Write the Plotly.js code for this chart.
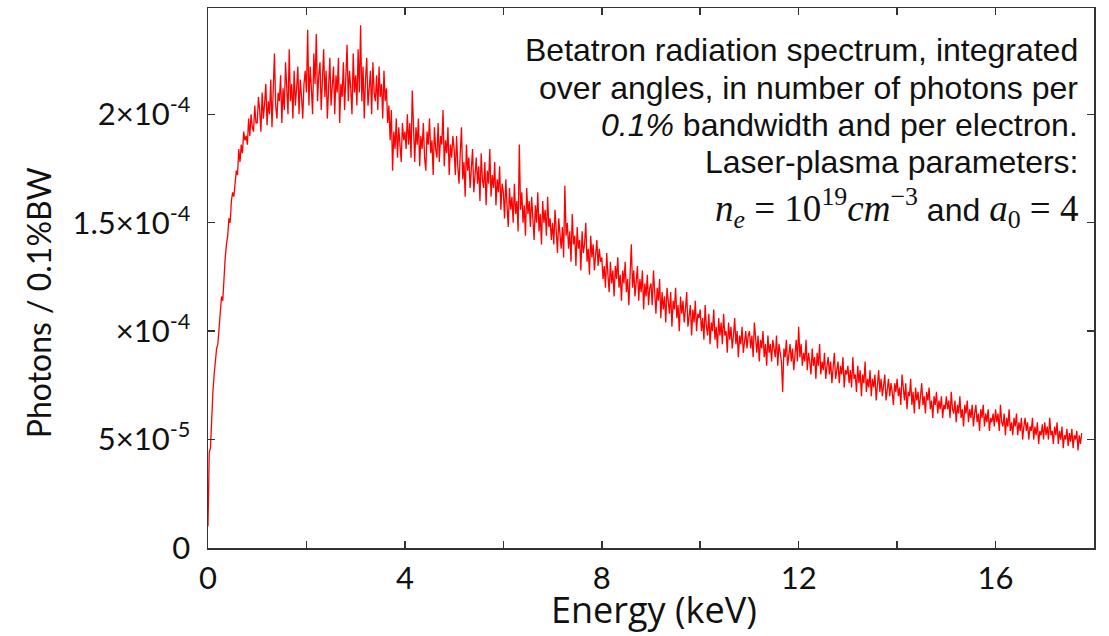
<!DOCTYPE html>
<html>
<head>
<meta charset="utf-8">
<script src="https://cdn.plot.ly/plotly-3.0.1.min.js"></script>
<style>html,body{margin:0;padding:0;background:#fff;}#chart{width:1109px;height:636px;}</style>
</head>
<body>
<div id="chart"></div>
<script>
// Energy grid: starts at 0 keV, sampled every 0.025 keV
const energyStart = 0;
const energyStep = 0.025;

// Photons / 0.1%BW, in units of 1e-4 (one row per keV)
const photons = [
  // 0 - 1 keV
  0.10, 0.44, 0.46, 0.64, 0.72, 0.80, 0.86, 0.92, 0.94, 1.02, 1.06, 1.16, 1.14, 1.28, 1.34, 1.40, 1.44, 1.52, 1.50, 1.60,
  1.64, 1.62, 1.70, 1.74, 1.72, 1.84, 1.78, 1.86, 1.82, 1.92, 1.88, 1.90, 1.86, 1.98, 1.90, 2.00, 1.94, 1.92, 2.04, 1.96,
  // 1 - 2 keV
  1.96, 2.08, 2.02, 1.92, 2.10, 1.98, 2.05, 2.14, 1.95, 2.06, 2.00, 2.16, 1.94, 2.12, 2.28, 2.04, 1.98, 2.10, 2.06, 2.18,
  1.96, 2.12, 2.02, 2.24, 2.08, 2.00, 2.30, 2.06, 2.14, 1.98, 2.20, 2.04, 2.12, 2.22, 2.00, 2.16, 2.08, 1.98, 2.14, 2.20,
  // 2 - 3 keV
  2.10, 2.39, 2.04, 2.22, 2.12, 2.00, 2.28, 2.14, 2.37, 2.06, 2.18, 2.24, 2.02, 2.15, 2.30, 2.08, 2.20, 1.98, 2.16, 2.26,
  2.04, 2.12, 2.22, 2.00, 2.18, 2.10, 2.26, 1.96, 2.14, 2.08, 2.24, 2.02, 2.16, 2.32, 2.06, 2.20, 2.12, 2.00, 2.28, 2.10,
  // 3 - 4 keV
  2.18, 2.04, 2.30, 2.10, 2.41, 2.06, 2.22, 1.98, 2.16, 2.26, 2.04, 2.12, 2.20, 2.00, 2.24, 2.10, 2.06, 2.18, 2.02, 2.22,
  2.08, 2.14, 1.98, 2.20, 2.06, 2.12, 1.96, 2.04, 1.88, 2.02, 1.74, 1.92, 1.84, 1.98, 1.80, 1.94, 1.86, 1.78, 1.96, 1.88,
  // 4 - 5 keV
  1.92, 1.84, 2.00, 1.86, 1.96, 1.80, 2.11, 1.88, 1.78, 1.94, 1.86, 1.98, 1.76, 1.90, 1.84, 1.96, 1.80, 1.74, 1.92, 1.86,
  1.98, 1.82, 1.88, 1.72, 1.94, 1.84, 1.80, 1.96, 1.78, 1.90, 1.86, 2.02, 1.76, 1.88, 1.82, 1.94, 1.72, 1.86, 1.80, 1.90,
  // 5 - 6 keV
  1.84, 1.72, 1.90, 1.76, 1.68, 1.82, 1.94, 1.70, 1.78, 1.62, 1.86, 1.74, 1.80, 1.66, 1.76, 1.84, 1.64, 1.72, 1.80, 1.68,
  1.76, 1.60, 1.82, 1.70, 1.66, 1.78, 1.58, 1.74, 1.68, 1.84, 1.62, 1.72, 1.66, 1.78, 1.58, 1.70, 1.64, 1.76, 1.56, 1.68,
  // 6 - 7 keV
  1.64, 1.52, 1.70, 1.58, 1.48, 1.66, 1.56, 1.62, 1.50, 1.68, 1.54, 1.60, 1.46, 1.86, 1.56, 1.64, 1.50, 1.58, 1.44, 1.66,
  1.54, 1.60, 1.48, 1.62, 1.52, 1.42, 1.58, 1.50, 1.64, 1.46, 1.54, 1.40, 1.60, 1.50, 1.56, 1.44, 1.62, 1.48, 1.52, 1.42,
  // 7 - 8 keV
  1.50, 1.40, 1.56, 1.44, 1.36, 1.52, 1.46, 1.38, 1.48, 1.34, 1.67, 1.44, 1.50, 1.38, 1.46, 1.32, 1.54, 1.40, 1.44, 1.30,
  1.48, 1.38, 1.42, 1.28, 1.46, 1.36, 1.40, 1.50, 1.32, 1.38, 1.26, 1.44, 1.34, 1.40, 1.28, 1.36, 1.42, 1.30, 1.38, 1.32,
  // 8 - 9 keV
  1.34, 1.24, 1.30, 1.20, 1.36, 1.26, 1.18, 1.32, 1.22, 1.28, 1.16, 1.30, 1.24, 1.34, 1.20, 1.26, 1.14, 1.28, 1.22, 1.32,
  1.18, 1.24, 1.12, 1.26, 1.40, 1.20, 1.28, 1.16, 1.22, 1.30, 1.14, 1.24, 1.18, 1.28, 1.10, 1.22, 1.16, 1.26, 1.12, 1.20,
  // 9 - 10 keV
  1.22, 1.12, 1.28, 1.16, 1.08, 1.20, 1.14, 1.24, 1.06, 1.18, 1.10, 1.16, 1.04, 1.20, 1.12, 1.08, 1.18, 1.02, 1.14, 1.10,
  1.20, 1.06, 1.12, 1.00, 1.16, 1.08, 1.14, 1.04, 1.10, 1.18, 1.02, 1.08, 1.12, 0.98, 1.10, 1.04, 1.14, 1.00, 1.08, 1.06,
  // 10 - 11 keV
  1.10, 1.00, 1.06, 0.96, 1.12, 1.02, 0.98, 1.08, 0.94, 1.04, 1.00, 1.10, 0.96, 1.02, 0.92, 1.06, 0.98, 1.04, 0.94, 1.08,
  0.98, 1.00, 0.90, 1.04, 0.96, 1.02, 0.92, 0.98, 1.06, 0.94, 1.00, 0.88, 0.98, 0.94, 1.02, 0.90, 0.96, 1.00, 0.92, 0.98,
  // 11 - 12 keV
  1.00, 0.92, 0.98, 0.88, 1.04, 0.94, 0.90, 0.98, 0.86, 0.96, 0.92, 1.00, 0.88, 0.94, 0.84, 0.98, 0.90, 0.94, 0.86, 0.96,
  0.92, 0.88, 0.98, 0.84, 0.94, 0.90, 0.86, 0.72, 0.92, 0.88, 0.96, 0.84, 0.90, 0.94, 0.86, 0.92, 0.82, 0.90, 0.96, 0.86,
  // 12 - 13 keV
  1.02, 0.88, 0.94, 0.84, 0.90, 0.86, 0.96, 0.82, 0.90, 0.86, 0.80, 0.92, 0.84, 0.88, 0.78, 0.90, 0.84, 0.94, 0.80, 0.86,
  0.82, 0.90, 0.78, 0.84, 0.88, 0.80, 0.86, 0.76, 0.84, 0.90, 0.78, 0.82, 0.86, 0.76, 0.84, 0.80, 0.88, 0.74, 0.82, 0.80,
  // 13 - 14 keV
  0.84, 0.76, 0.82, 0.74, 0.88, 0.78, 0.80, 0.72, 0.84, 0.76, 0.82, 0.70, 0.80, 0.76, 0.86, 0.72, 0.78, 0.74, 0.82, 0.70,
  0.78, 0.74, 0.80, 0.68, 0.76, 0.82, 0.72, 0.78, 0.70, 0.76, 0.80, 0.68, 0.74, 0.78, 0.70, 0.76, 0.72, 0.66, 0.76, 0.72,
  // 14 - 15 keV
  0.78, 0.70, 0.74, 0.66, 0.80, 0.72, 0.68, 0.76, 0.64, 0.72, 0.70, 0.78, 0.66, 0.72, 0.62, 0.74, 0.68, 0.72, 0.64, 0.70,
  0.76, 0.66, 0.70, 0.62, 0.72, 0.68, 0.74, 0.64, 0.68, 0.60, 0.70, 0.66, 0.72, 0.62, 0.68, 0.64, 0.70, 0.60, 0.66, 0.64,
  // 15 - 16 keV
  0.70, 0.64, 0.68, 0.60, 0.72, 0.64, 0.62, 0.68, 0.58, 0.66, 0.62, 0.70, 0.60, 0.64, 0.56, 0.66, 0.62, 0.68, 0.58, 0.64,
  0.60, 0.66, 0.56, 0.62, 0.66, 0.58, 0.62, 0.54, 0.64, 0.60, 0.66, 0.56, 0.62, 0.58, 0.64, 0.54, 0.60, 0.58, 0.62, 0.56,
  // 16 - 17 keV
  0.64, 0.58, 0.62, 0.54, 0.66, 0.58, 0.56, 0.62, 0.52, 0.60, 0.56, 0.64, 0.54, 0.58, 0.52, 0.60, 0.56, 0.62, 0.52, 0.58,
  0.54, 0.60, 0.50, 0.56, 0.60, 0.54, 0.58, 0.50, 0.56, 0.54, 0.60, 0.50, 0.56, 0.52, 0.58, 0.48, 0.54, 0.52, 0.57, 0.50,
  // 17 - 17.75 keV
  0.58, 0.52, 0.56, 0.50, 0.60, 0.52, 0.54, 0.48, 0.56, 0.52, 0.58, 0.48, 0.54, 0.50, 0.56, 0.46, 0.52, 0.50, 0.55, 0.47,
  0.53, 0.49, 0.55, 0.46, 0.52, 0.50, 0.54, 0.45, 0.52, 0.48, 0.53
];

const xTickVals = [0, 2, 4, 6, 8, 10, 12, 14, 16];
const xTickText = ['0', '', '4', '', '8', '', '12', '', '16'];
const yTickVals = [0, 0.5, 1, 1.5, 2];
const yTickText = ['0', '5×10<sup>-5</sup>', '×10<sup>-4</sup>', '1.5×10<sup>-4</sup>', '2×10<sup>-4</sup>'];

const mathStyle = 'font-family:\'Liberation Serif\',serif;font-size:37px';
const noteLines = [
  'Betatron radiation spectrum, integrated',
  'over angles, in number of photons per',
  '<i>0.1%</i> bandwidth and per electron.',
  'Laser-plasma parameters:',
  '<span style="' + mathStyle + '"><i>n</i><sub><i>e</i></sub> = 10<sup>19</sup><i>cm</i><sup>−3</sup></span> and <span style="' + mathStyle + '"><i>a</i><sub>0</sub> = 4</span>'
];
const noteY = [0.922, 0.852, 0.783, 0.715, 0.630];

const tickFont = {family: 'Lato, "DejaVu Sans", sans-serif', size: 31, color: '#111'};

const trace = {
  type: 'scatter',
  mode: 'lines',
  x0: energyStart,
  dx: energyStep,
  y: photons,
  line: {color: '#ff0000', width: 1.3},
  hoverinfo: 'skip'
};

const annotations = noteLines.map((t, i) => ({
  text: t, xref: 'paper', yref: 'paper', x: 0.984, y: noteY[i],
  xanchor: 'right', yanchor: 'middle', align: 'right', showarrow: false,
  font: {family: '"Liberation Sans", Arial, sans-serif', size: 32, color: '#111'}
}));
annotations.push({
  text: 'Photons / 0.1%BW', xref: 'paper', yref: 'paper', x: -0.192, y: 0.455,
  xanchor: 'center', yanchor: 'middle', textangle: -90, showarrow: false,
  font: {family: 'Lato, "DejaVu Sans", sans-serif', size: 32, color: '#111'}
});
annotations.push({
  text: 'Energy (keV)', xref: 'paper', yref: 'paper', x: 0.503, y: -0.114,
  xanchor: 'center', yanchor: 'middle', showarrow: false,
  font: {family: '"Open Sans", Lato, sans-serif', size: 36, color: '#111'}
});

const layout = {
  width: 1109, height: 636,
  margin: {l: 208, r: 15, t: 8, b: 88},
  paper_bgcolor: '#fff', plot_bgcolor: '#fff',
  showlegend: false,
  xaxis: {
    range: [0, 18], tickmode: 'array', tickvals: xTickVals, ticktext: xTickText,
    ticks: 'inside', ticklen: 7, tickwidth: 1.5, tickcolor: '#333',
    showline: true, linecolor: '#333', linewidth: 1.5, mirror: 'ticks',
    showgrid: false, zeroline: false, tickfont: tickFont, ticklabelstandoff: 2
  },
  yaxis: {
    range: [0, 2.49], tickmode: 'array', tickvals: yTickVals, ticktext: yTickText,
    ticks: 'inside', ticklen: 7, tickwidth: 1.5, tickcolor: '#333',
    showline: true, linecolor: '#333', linewidth: 1.5, mirror: 'ticks',
    showgrid: false, zeroline: false, tickfont: tickFont, ticklabelstandoff: 10
  },
  annotations: annotations
};

Plotly.newPlot('chart', [trace], layout, {displayModeBar: false, staticPlot: true});
</script>
</body>
</html>
